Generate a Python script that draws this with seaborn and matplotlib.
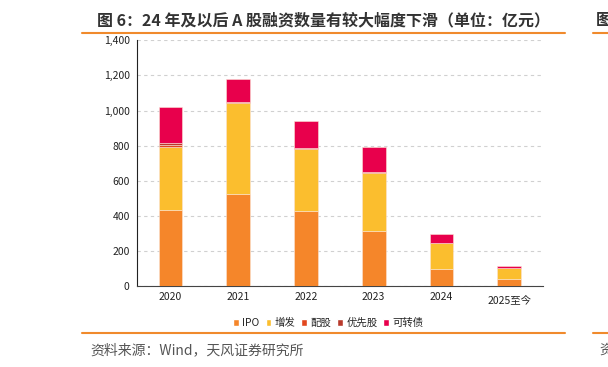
import pandas as pd
import matplotlib.pyplot as plt
import seaborn as sns
from matplotlib.lines import Line2D
from matplotlib.patches import Patch
from matplotlib.ticker import FuncFormatter

years = ["2020", "2021", "2022", "2023", "2024", "2025至今"]
series = ["IPO", "增发", "配股", "优先股", "可转债"]
ipo = [432, 526, 428, 314, 99, 42]
zengfa = [358, 516, 353, 332, 145, 63]
peigu = [15, 6, 4, 3, 1, 0]
youxian = [10, 2, 2, 1, 0, 0]
kezhuan = [204, 127, 156, 140, 51, 11]
colors = ["#F5862A", "#FBBE2E", "#E2471F", "#B83A2C", "#E8004C"]

sns.set_style("white")
plt.rcParams["font.family"] = ["Noto Sans CJK SC", "DejaVu Sans"]

df = pd.DataFrame({"year": years, "IPO": ipo, "增发": zengfa, "配股": peigu,
                   "优先股": youxian, "可转债": kezhuan})

fig = plt.figure(figsize=(6.08, 3.67), dpi=100)
ax = fig.add_axes([0.2248, 0.2207, 0.6682, 0.6693])

bottom = pd.Series([0] * len(df))
for name, c in zip(series, colors):
    sns.barplot(data=df, x="year", y=name, color=c, saturation=1, width=0.35,
                bottom=bottom, ax=ax, edgecolor="#fbe3d4", linewidth=0.4, zorder=3)
    bottom = bottom + df[name]

ax.set_ylim(0, 1400)
ax.set_xlim(-0.5, 5.5)
ax.set_yticks(range(0, 1401, 200))
ax.yaxis.set_major_formatter(FuncFormatter(lambda v, p: f"{int(v):,}"))
ax.grid(axis="y", linestyle=(0, (3, 3)), color="#d0d0d0", linewidth=0.8, zorder=0)
ax.set_xlabel("")
ax.set_ylabel("")
for s in ["top", "right"]:
    ax.spines[s].set_visible(False)
ax.spines["left"].set_color("#222222")
ax.spines["bottom"].set_color("#444444")
ax.spines["left"].set_linewidth(0.8)
ax.spines["bottom"].set_linewidth(0.8)
ax.set_xticks([i - 0.5 for i in range(7)], minor=True)
ax.tick_params(axis="x", which="major", length=0, labelsize=7.5, colors="#222222", pad=4)
ax.tick_params(axis="x", which="minor", length=4, direction="out", color="#444444")
ax.tick_params(axis="y", length=3, direction="out", labelsize=7.5, colors="#222222", pad=2)
ax.get_xticklabels()[-1].set_y(-0.015)

handles = [Patch(facecolor=c, label=n) for n, c in zip(series, colors)]
fig.legend(handles=handles, loc="center", bbox_to_anchor=(0.54, 0.12), ncol=5,
           frameon=False, fontsize=7.5, handlelength=0.55, handleheight=0.55,
           handletextpad=0.3, columnspacing=0.6)

fig.text(0.16, 0.945, "图 6：24 年及以后 A 股融资数量有较大幅度下滑（单位：亿元）",
         fontsize=11.5, fontweight="bold", color="#333333", va="center", ha="left")
fig.text(0.98, 0.945, "图", fontsize=11.5, fontweight="bold", color="#333333",
         va="center", ha="left")
fig.text(0.148, 0.046, "资料来源：Wind，天风证券研究所", fontsize=10,
         color="#555555", va="center", ha="left")
fig.text(0.985, 0.046, "资", fontsize=10, color="#555555", va="center", ha="left")

for yy in [1 - 33 / 367, 1 - 333 / 367]:
    fig.add_artist(Line2D([82 / 608, 565 / 608], [yy, yy], color="#F08A2C", linewidth=1.5))
    fig.add_artist(Line2D([593 / 608, 1], [yy, yy], color="#F08A2C", linewidth=1.5))

fig.savefig("out.png", dpi=100)
